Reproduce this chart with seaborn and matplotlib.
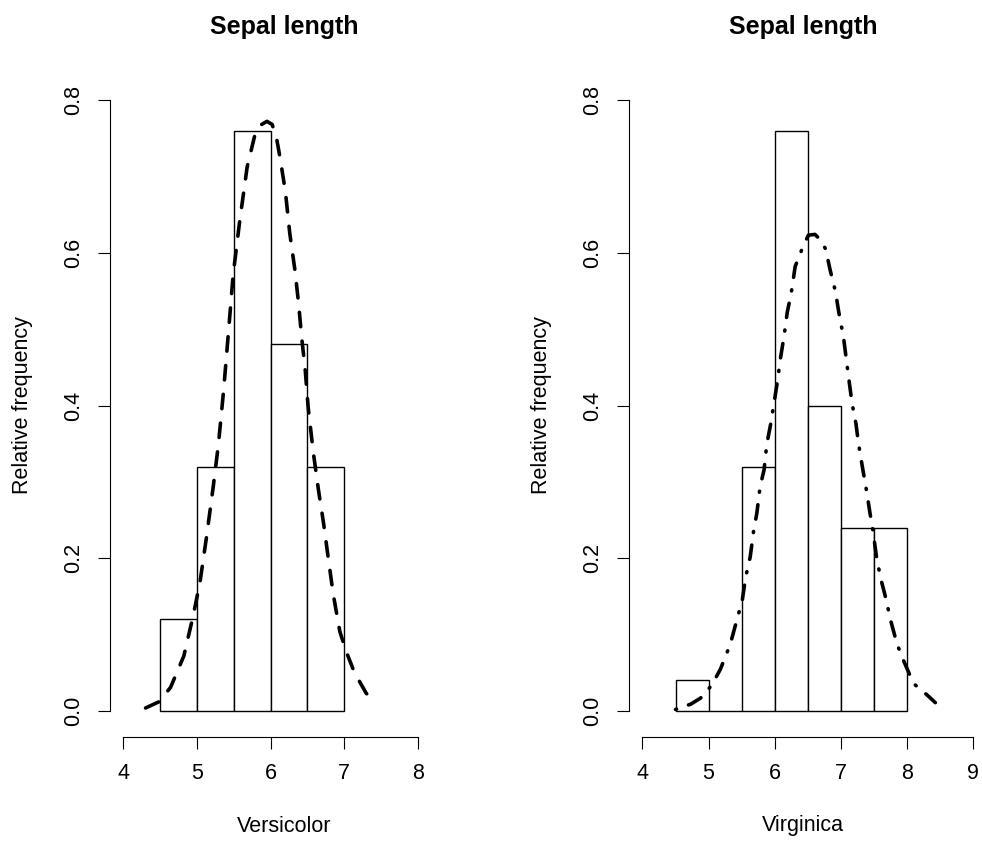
import numpy as np
import pandas as pd
import matplotlib
matplotlib.use('Agg')
import matplotlib.pyplot as plt
import seaborn as sns

sns.set_style('white')
plt.rcParams['font.family'] = ['Liberation Sans', 'DejaVu Sans']
plt.rcParams['text.color'] = 'black'
plt.rcParams['axes.labelcolor'] = 'black'
plt.rcParams['xtick.color'] = 'black'
plt.rcParams['ytick.color'] = 'black'

# Histogram bins (relative frequency = density, bin width 0.5)
edges_versi = [4.5, 5.0, 5.5, 6.0, 6.5, 7.0]
dens_versi = [0.12, 0.32, 0.76, 0.48, 0.32]
edges_virg = [4.5, 5.0, 5.5, 6.0, 6.5, 7.0, 7.5, 8.0]
dens_virg = [0.04, 0.00, 0.32, 0.76, 0.40, 0.24, 0.24]

# Density curves
curve_versi_x = [4.30, 4.48, 4.64, 4.82, 4.95, 5.04, 5.13, 5.22, 5.29, 5.36, 5.43, 5.49,
                 5.58, 5.68, 5.79, 5.86, 5.95, 6.02, 6.08, 6.13, 6.20, 6.26, 6.33, 6.38,
                 6.42, 6.47, 6.51, 6.58, 6.65, 6.72, 6.78, 6.85, 6.94, 7.03, 7.14, 7.30, 7.45]
curve_versi_y = [0.004, 0.012, 0.031, 0.072, 0.126, 0.169, 0.229, 0.294, 0.349, 0.419, 0.500, 0.571,
                 0.642, 0.712, 0.756, 0.767, 0.772, 0.768, 0.750, 0.723, 0.680, 0.625, 0.577, 0.533,
                 0.490, 0.446, 0.397, 0.338, 0.289, 0.245, 0.202, 0.153, 0.104, 0.077, 0.050, 0.023, 0.011]

curve_virg_x = [4.50, 4.73, 4.88, 5.05, 5.18, 5.33, 5.43, 5.51, 5.56, 5.63, 5.68, 5.73,
                5.78, 5.84, 5.88, 5.94, 5.99, 6.04, 6.09, 6.14, 6.19, 6.25, 6.31, 6.41,
                6.51, 6.61, 6.69, 6.77, 6.84, 6.92, 6.97, 7.04, 7.12, 7.17, 7.23, 7.27,
                7.33, 7.40, 7.44, 7.48, 7.54, 7.60, 7.68, 7.75, 7.85, 7.95, 8.10, 8.28, 8.43]
curve_virg_y = [0.002, 0.009, 0.017, 0.034, 0.055, 0.088, 0.120, 0.145, 0.175, 0.202, 0.235, 0.259,
                0.294, 0.316, 0.349, 0.376, 0.403, 0.431, 0.463, 0.490, 0.522, 0.547, 0.582, 0.604,
                0.623, 0.624, 0.617, 0.605, 0.577, 0.549, 0.522, 0.490, 0.436, 0.403, 0.376, 0.349,
                0.318, 0.283, 0.260, 0.240, 0.202, 0.175, 0.148, 0.120, 0.088, 0.066, 0.036, 0.023, 0.011]

yticks = [0.0, 0.2, 0.4, 0.6, 0.8]
ytick_labels = ['0.0', '0.2', '0.4', '0.6', '0.8']

W, H = 982, 844
fig = plt.figure(figsize=(W / 100, H / 100), dpi=100)
ax1 = fig.add_axes([110 / W, (H - 737) / H, 348 / W, 663 / H])
ax2 = fig.add_axes([629 / W, (H - 737) / H, 348 / W, 663 / H])

panels = [
    (ax1, edges_versi, dens_versi, curve_versi_x, curve_versi_y, (0, (4, 4)),
     (3.817, 3.817 + 348 / 73.6), [4, 5, 6, 7, 8], 'Versicolor', 23),
    (ax2, edges_virg, dens_virg, curve_virg_x, curve_virg_y, (0, (0.3, 3.5, 4, 3.5)),
     (3.796, 3.796 + 348 / 66.1), [4, 5, 6, 7, 8, 9], 'Virginica', 542),
]

for ax, edges, dens, cx, cy, ls, xlim, xticks, name, ylab_x in panels:
    centers = [(a + b) / 2 for a, b in zip(edges[:-1], edges[1:])]
    hist_df = pd.DataFrame({'x': centers, 'w': dens})
    sns.histplot(data=hist_df, x='x', weights='w', bins=edges, stat='count',
                 color='white', edgecolor='black', linewidth=1.0, alpha=1, ax=ax)
    curve_df = pd.DataFrame({'x': cx, 'y': cy})
    sns.lineplot(data=curve_df, x='x', y='y', color='black', linewidth=2.6,
                 linestyle=ls, dash_capstyle='round', ax=ax)

    ax.set_xlim(*xlim)
    ax.set_ylim(-0.034, 0.834)
    ax.set_xticks(xticks)
    ax.set_xticklabels([str(t) for t in xticks])
    ax.set_yticks(yticks)
    ax.set_yticklabels(ytick_labels)
    for s in ['top', 'right']:
        ax.spines[s].set_visible(False)
    ax.spines['left'].set_bounds(0, 0.8)
    ax.spines['bottom'].set_bounds(xticks[0], xticks[-1])
    for s in ['left', 'bottom']:
        ax.spines[s].set_linewidth(0.8)
        ax.spines[s].set_color('black')
    ax.tick_params(axis='both', direction='out', length=8.6, width=0.8,
                   color='black', labelsize=15.5, pad=10, left=True, bottom=True)
    for lab in ax.get_yticklabels():
        lab.set_rotation(90)
        lab.set_va('center')

    ax.set_title('Sepal length', fontsize=18, fontweight='bold', pad=0,
                 y=(737 - 27) / 663, va='center')
    ax.set_xlabel(name, fontsize=15.5, va='center')
    ax.xaxis.set_label_coords(0.5, (737 - 826) / 663)
    ax.set_ylabel('Relative frequency', fontsize=15.5, va='center')
    ax.yaxis.set_label_coords((ylab_x - (110 if ax is ax1 else 629)) / 348, 0.5)

fig.savefig('out.png', dpi=100)
